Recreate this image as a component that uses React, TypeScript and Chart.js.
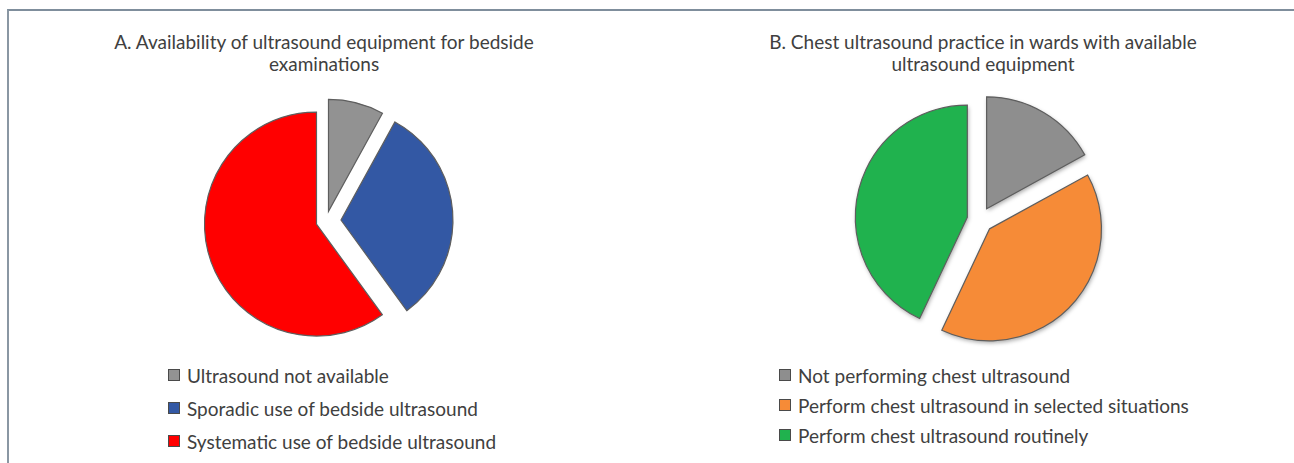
import React, { useEffect, useRef } from "react";
import { Chart, registerables } from "chart.js";

Chart.register(...registerables);

// ---- Data ----
const titleA = ["A. Availability of ultrasound equipment for bedside", "examinations"];
const labelsA = [
  "Ultrasound not available",
  "Sporadic use of bedside ultrasound",
  "Systematic use of bedside ultrasound",
];
const valuesA = [8, 32, 60];
const colorsA = ["#929292", "#3358A4", "#FF0000"];
const explodeA = [10, 15, 10];

const titleB = ["B. Chest ultrasound practice in wards with available", "ultrasound equipment"];
const labelsB = [
  "Not performing chest ultrasound",
  "Perform chest ultrasound in selected situations",
  "Perform chest ultrasound routinely",
];
const valuesB = [17, 40, 43];
const colorsB = ["#8E8E8E", "#F68B37", "#20B24E"];
const explodeB = [13, 13, 13];

const FONT = "Lato, 'Open Sans', sans-serif";
const TEXT_COLOR = "#404040";
const FONT_SIZE = 19;

// Draws each arc exploded outward along its bisector by a fixed number of pixels,
// keeping the same outer radius for every slice (like an exploded Excel pie).
const explodePlugin = {
  id: "explodePie",
  beforeDatasetDraw(chart: any, args: any, opts: any) {
    const meta = args.meta;
    const ctx: CanvasRenderingContext2D = chart.ctx;
    const explode: number[] = opts.explode || [];
    const shadow: boolean = !!opts.shadow;
    meta.data.forEach((arc: any, i: number) => {
      const { x, y, startAngle, endAngle, outerRadius } = arc.getProps(
        ["x", "y", "startAngle", "endAngle", "outerRadius"],
        true
      );
      const o = arc.options;
      const mid = (startAngle + endAngle) / 2;
      const e = explode[i] || 0;
      const cx = x + Math.cos(mid) * e;
      const cy = y + Math.sin(mid) * e;
      ctx.save();
      ctx.beginPath();
      ctx.moveTo(cx, cy);
      ctx.arc(cx, cy, outerRadius, startAngle, endAngle);
      ctx.closePath();
      if (shadow) {
        ctx.shadowColor = "rgba(0,0,0,0.35)";
        ctx.shadowBlur = 4;
        ctx.shadowOffsetX = 1;
        ctx.shadowOffsetY = 2;
      }
      ctx.fillStyle = o.backgroundColor;
      ctx.fill();
      ctx.shadowColor = "transparent";
      ctx.lineWidth = o.borderWidth;
      ctx.strokeStyle = o.borderColor;
      ctx.lineJoin = "miter";
      ctx.stroke();
      ctx.restore();
    });
    return false;
  },
};

function Pie({
  labels,
  values,
  colors,
  explode,
  shadow,
  left,
  top,
  size,
  radius,
}: {
  labels: string[];
  values: number[];
  colors: string[];
  explode: number[];
  shadow: boolean;
  left: number;
  top: number;
  size: number;
  radius: number;
}) {
  const ref = useRef<HTMLCanvasElement | null>(null);
  useEffect(() => {
    if (!ref.current) return;
    const chart = new Chart(ref.current, {
      type: "pie",
      data: {
        labels,
        datasets: [
          {
            data: values,
            backgroundColor: colors,
            borderColor: "#5E5E5E",
            borderWidth: 1.2,
          },
        ],
      },
      plugins: [explodePlugin],
      options: {
        animation: false,
        responsive: false,
        radius,
        layout: { padding: 0 },
        plugins: {
          legend: { display: false },
          title: { display: false },
          tooltip: { enabled: false },
          explodePie: { explode, shadow },
        } as any,
      },
    });
    return () => chart.destroy();
  }, []);
  return (
    <canvas
      ref={ref}
      width={size}
      height={size}
      style={{ position: "absolute", left, top, width: size, height: size }}
    />
  );
}

function Title({ lines, center, top }: { lines: string[]; center: number; top: number }) {
  return (
    <div
      style={{
        position: "absolute",
        left: center - 300,
        width: 600,
        top,
        textAlign: "center",
        fontFamily: FONT,
        fontSize: FONT_SIZE,
        lineHeight: "22px",
        color: TEXT_COLOR,
      }}
    >
      {lines.map((l, i) => (
        <div key={i}>{l}</div>
      ))}
    </div>
  );
}

function Legend({
  labels,
  colors,
  left,
  top,
  gap,
}: {
  labels: string[];
  colors: string[];
  left: number;
  top: number;
  gap: number;
}) {
  return (
    <div style={{ position: "absolute", left, top }}>
      {labels.map((l, i) => (
        <div
          key={i}
          style={{
            position: "absolute",
            left: 0,
            top: i * gap,
            height: 22,
            display: "flex",
            alignItems: "center",
            whiteSpace: "nowrap",
            fontFamily: FONT,
            fontSize: FONT_SIZE,
            color: TEXT_COLOR,
          }}
        >
          <span
            style={{
              display: "inline-block",
              width: 10,
              height: 10,
              background: colors[i],
              border: "1px solid #4a4a4a",
              marginRight: 7,
            }}
          />
          {l}
        </div>
      ))}
    </div>
  );
}

export default function App() {
  return (
    <div
      style={{
        position: "fixed",
        left: 0,
        top: 0,
        width: 1294,
        height: 463,
        background: "#ffffff",
        overflow: "hidden",
      }}
    >
      <div
        style={{
          position: "absolute",
          left: 7,
          top: 9,
          width: 1400,
          height: 600,
          borderTop: "2px solid #7F8E9C",
          borderLeft: "2px solid #8A97A3",
        }}
      />
      <Title lines={titleA} center={324} top={31} />
      <Title lines={titleB} center={983} top={31} />
      <Pie labels={labelsA} values={valuesA} colors={colorsA} explode={explodeA} shadow={false} left={186} top={81} size={280} radius={112} />
      <Pie labels={labelsB} values={valuesB} colors={colorsB} explode={explodeB} shadow={true} left={840} top={80} size={280} radius={112} />
      <Legend labels={labelsA} colors={colorsA} left={168} top={364} gap={33} />
      <Legend labels={labelsB} colors={colorsB} left={779} top={364} gap={30} />
    </div>
  );
}
